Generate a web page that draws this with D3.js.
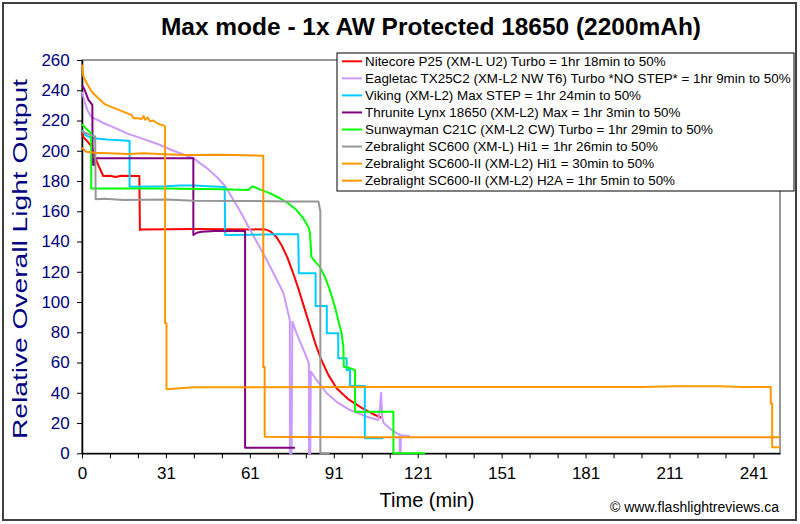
<!DOCTYPE html>
<html><head><meta charset="utf-8">
<script src="https://cdn.jsdelivr.net/npm/d3@7"></script>
<style>body{margin:0;background:#fff}svg{display:block}text{font-family:"Liberation Sans",Arial,sans-serif}</style>
</head><body><svg id="c" width="800" height="524"></svg>
<script>
// ---------- DATA ----------
const seriesNames = [
  "Nitecore P25 (XM-L U2) Turbo = 1hr 18min to 50%",
  "Eagletac TX25C2 (XM-L2 NW T6) Turbo *NO STEP* = 1hr 9min to 50%",
  "Viking (XM-L2) Max STEP = 1hr 24min to 50%",
  "Thrunite Lynx 18650 (XM-L2) Max = 1hr 3min to 50%",
  "Sunwayman C21C (XM-L2 CW) Turbo = 1hr 29min to 50%",
  "Zebralight SC600 (XM-L) Hi1 = 1hr 26min to 50%",
  "Zebralight SC600-II (XM-L2) Hi1 = 30min to 50%",
  "Zebralight SC600-II (XM-L2) H2A = 1hr 5min to 50%"
];
const seriesColors = ["#ff0000","#cc99ff","#00ccff","#800080","#00ff00","#969696","#ff9900","#ff9400"];

// [time (min), relative output]
const nitecore = [[0,212.6],[0.5,208.9],[1.7,206.7],[3.5,202.7],[4.6,196],[5.8,190.6],[7.6,183.3],[10,183.5],[12,182.6],[14,183.5],[20.5,183.3],[20.7,147.6],[21.3,148],[40,148.2],[65.5,148],[67.5,146.5],[69.5,143],[71.5,137],[73.5,129],[75.5,119],[77.5,108],[79.5,96],[81.5,84],[83.5,72],[85.5,62],[88,52],[91,43],[95,36],[100,30],[104,26],[107,23.5]];
const eagletac = [[0,239],[1,232],[2,226.5],[3.5,222],[5.5,220.5],[8,218],[12,215],[16,211.5],[20,209],[27,204.5],[32,200.5],[37,197],[40,195],[42,192],[45,188],[48,183],[51,177],[54,168],[57,158.5],[60,148],[63,138],[66,128],[69,117],[72,106],[74.3,88],[74.35,0],[74.9,0],[75.2,87],[76.7,79.3],[79.7,66.1],[81.1,59.5],[81.15,0],[81.6,0],[81.8,54],[83.8,48.5],[87.5,39.7],[91,34],[95.8,28.6],[101.8,24.2],[105.9,22],[106.5,30],[106.9,40],[107.3,24],[107.8,20],[110,16.5],[112.5,13.2],[113.5,12.5],[113.6,1],[113.9,1],[114,12],[116.6,11.5],[117.2,11.5]];
const viking = [[0,213.7],[1.2,210.4],[2.9,208.9],[4,208.2],[8.8,207.5],[16.5,206.7],[17,206.5],[17,176.2],[30,176.5],[35,177],[40,177],[45,176.5],[51,176],[51.2,144.3],[60,144.5],[70,144.8],[77.3,144.8],[77.5,119],[83.5,119],[83.5,97.4],[87.5,97.4],[87.5,79.3],[91.6,79.3],[91.6,62.8],[94.6,62.8],[94.6,55],[95.8,55],[95.8,44.5],[101.1,44.5],[101.1,9.9],[107.7,9.9]];
const thrunite = [[0,243.5],[1,240],[2.3,233.6],[3.7,230.3],[3.8,191],[4.3,190.5],[4.5,195],[20,195],[39.8,195],[39.8,144.3],[41,145.8],[42.8,146.5],[47.5,147],[58.3,147],[58.3,3.7],[76.1,3.7]];
const sunwayman = [[0,217.5],[1.8,214],[3,212],[3.3,212],[3.3,175],[10,175],[30,175],[50,174.5],[59.4,174],[61,176.5],[63.5,174.5],[67,172],[70.7,168.6],[73.7,165.3],[76.7,160.8],[79.1,155.3],[80.9,149.8],[81.5,145.4],[82,130],[83.3,126.7],[85,123.4],[86.8,116.7],[88.6,108],[90.4,96.9],[91.6,88.1],[92.8,79.3],[93.4,70.5],[93.6,57.2],[95.8,56.2],[97.6,55],[97.6,27.5],[111.3,27.5],[111.3,0],[122.6,0]];
const zebraSC600 = [[0,213],[1,212],[3,210.5],[4.7,209.5],[4.9,168],[8,168.3],[15,167.5],[30,167.8],[40,167],[60,166.8],[75,166.5],[84.5,166.5],[85.2,160],[85.2,0],[88.5,0]];
const zebraIIHi1 = [[0,257],[0.5,249],[1.7,244.6],[3.5,239],[5.8,234.7],[8.2,230.7],[11.8,228],[15.4,225.4],[17.8,223.6],[18.4,221.5],[20,221.5],[21.3,221],[22,223],[22.5,220.5],[23.5,222],[24.3,219.5],[25.5,220],[27.3,217.7],[29.4,216.6],[29.7,216],[29.7,86],[30.2,86],[30.2,42.3],[35,43],[40,43.6],[100,43.8],[150,43.8],[200,43.8],[212,44.3],[228,44.3],[236,43.8],[246.2,43.8],[246.2,33],[246.7,33],[246.7,4],[249.5,4]];
const zebraIIH2A = [[0,202],[1.5,199.4],[4.7,198.7],[9.4,198.3],[16.5,197.9],[22,198.3],[29.5,197.7],[37,197.2],[50,197.4],[64.8,196.7],[64.8,57],[65.3,57],[65.3,11],[80,10.8],[100,10.6],[150,10.6],[200,10.6],[249.5,10.6]];
const seriesData = [nitecore, eagletac, viking, thrunite, sunwayman, zebraSC600, zebraIIHi1, zebraIIH2A];

const xTickValues = [0,10,20,30,40,50,60,70,80,90,100,110,120,130,140,150,160,170,180,190,200,210,220,230,240];
const xLabelValues = [0,30,60,90,120,150,180,210,240];
const xTickLabels = ["0","31","61","91","121","151","181","211","241"];
const yTickValues = [0,20,40,60,80,100,120,140,160,180,200,220,240,260];

// ---------- CHART ----------
const svg = d3.select("#c");
const L = 82, R = 780, T = 60, B = 453.3;
const x = d3.scaleLinear().domain([0, 249.5]).range([L, R]);
const y = d3.scaleLinear().domain([0, 260]).range([B, T]);

svg.append("rect").attr("x",3).attr("y",3).attr("width",793).attr("height",517)
  .attr("fill","#fff").attr("stroke","#404040").attr("stroke-width",2);

// plot frame
svg.append("rect").attr("x",L).attr("y",T).attr("width",R-L).attr("height",B-T)
  .attr("fill","#fff").attr("stroke","#555").attr("stroke-width",1.2);

const labelMap = new Map(xLabelValues.map((v,i)=>[v,xTickLabels[i]]));
const xAxis = d3.axisBottom(x).tickValues(xTickValues).tickSize(5).tickSizeOuter(0)
  .tickFormat(d => labelMap.has(d) ? labelMap.get(d) : "");
const gx = svg.append("g").attr("transform",`translate(0,${B})`).call(xAxis);
gx.selectAll("text").attr("font-size",17).attr("fill","#000").attr("dy","1.05em");
gx.selectAll("line").attr("stroke","#000");
gx.select(".domain").attr("stroke","#000").attr("stroke-width",1.5);

const yAxis = d3.axisLeft(y).tickValues(yTickValues).tickSize(5).tickSizeOuter(0);
const gy = svg.append("g").attr("transform",`translate(${L},0)`).call(yAxis);
gy.selectAll("text").attr("font-size",17).attr("fill","#000080").attr("dx","-0.25em");
gy.selectAll("line").attr("stroke","#000");
gy.select(".domain").attr("stroke","#000").attr("stroke-width",1.5);

// lines
const line = d3.line().x(d=>x(d[0])).y(d=>y(d[1]));
const gl = svg.append("g");
seriesData.forEach((s,i)=>{
  gl.append("path").attr("d",line(s)).attr("fill","none")
    .attr("stroke",seriesColors[i]).attr("stroke-width",2).attr("stroke-linejoin","round");
});

// titles
svg.append("text").attr("x",(L+R)/2).attr("y",35).attr("text-anchor","middle")
  .attr("font-size",23).attr("font-weight","bold").attr("fill","#000")
  .attr("textLength",540).attr("lengthAdjust","spacingAndGlyphs")
  .text("Max mode - 1x AW Protected 18650 (2200mAh)");
svg.append("text").attr("transform",`translate(27,259) rotate(-90)`).attr("text-anchor","middle")
  .attr("font-size",20).attr("fill","#000080")
  .attr("textLength",360).attr("lengthAdjust","spacingAndGlyphs")
  .text("Relative Overall Light Output");
svg.append("text").attr("x",427).attr("y",507).attr("text-anchor","middle")
  .attr("font-size",20).attr("fill","#000").text("Time (min)");
svg.append("text").attr("x",779).attr("y",512).attr("text-anchor","end")
  .attr("font-size",14).attr("fill","#000").text("© www.flashlightreviews.ca");

// legend
const lg = svg.append("g");
lg.append("rect").attr("x",337).attr("y",53).attr("width",457).attr("height",138)
  .attr("fill","#fff").attr("stroke","#000").attr("stroke-width",1);
seriesNames.forEach((n,i)=>{
  const yy = 61.3 + i*17.05;
  lg.append("line").attr("x1",342).attr("x2",362).attr("y1",yy).attr("y2",yy)
    .attr("stroke",seriesColors[i]).attr("stroke-width",2);
  lg.append("text").attr("x",365).attr("y",yy).attr("dy","0.36em").attr("font-size",13.4)
    .attr("fill","#000").text(n);
});
</script></body></html>
